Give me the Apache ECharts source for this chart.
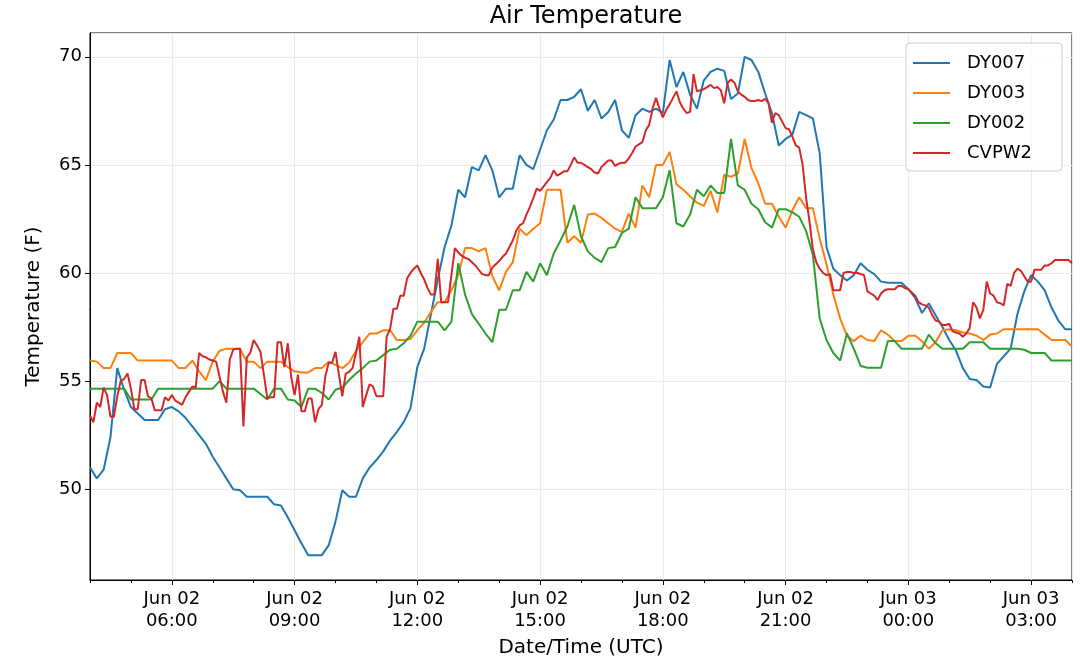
<!DOCTYPE html>
<html>
<head>
<meta charset="utf-8">
<script src="https://cdn.jsdelivr.net/npm/echarts@6/dist/echarts.min.js"></script>
<style>
  html, body { margin: 0; padding: 0; background: #fff; }
  #main { width: 1080px; height: 670px; }
</style>
</head>
<body>
<div id="main"></div>
<script>
// hours since Jun 02 00:00 UTC
var START_HOUR = 4;
var STEP_10MIN = 1 / 6;
var STEP_5MIN = 1 / 12;

var seriesNames = ['DY007', 'DY003', 'DY002', 'CVPW2'];
var seriesColors = ['#1f77b4', '#ff7f0e', '#2ca02c', '#d62728'];

// 10 minute readings
var dy007 = [51.0, 50.5, 50.9, 52.4, 55.6, 54.6, 53.8, 53.5, 53.2, 53.2,
  53.2, 53.7, 53.8, 53.6, 53.3, 52.9, 52.5, 52.1, 51.5, 51.0,
  50.5, 50.0, 49.95, 49.65, 49.65, 49.65, 49.65, 49.3, 49.25, 48.7,
  48.1, 47.5, 46.95, 46.95, 46.95, 47.4, 48.5, 49.95, 49.65, 49.65,
  50.5, 51.0, 51.35, 51.75, 52.25, 52.65, 53.1, 53.75, 55.65, 56.5,
  58.1, 59.7, 61.2, 62.2, 63.85, 63.5, 64.9, 64.75, 65.45, 64.75,
  63.5, 63.9, 63.9, 65.45, 65.0, 64.8, 65.7, 66.6, 67.1, 68.0,
  68.0, 68.15, 68.5, 67.5, 68.0, 67.15, 67.45, 68.0, 66.6, 66.25,
  67.3, 67.6, 67.45, 67.6, 67.4, 69.85, 68.6, 69.3, 68.25, 67.6,
  68.9, 69.3, 69.45, 69.35, 68.05, 68.3, 70.0, 69.85, 69.3, 68.3,
  67.4, 65.9, 66.2, 66.4, 67.45, 67.3, 67.15, 65.55, 61.2, 60.2,
  59.9, 59.65, 59.9, 60.45, 60.15, 59.95, 59.6, 59.55, 59.55, 59.55,
  59.25, 58.85, 58.15, 58.6, 58.05, 57.5, 56.9, 56.4, 55.6, 55.1,
  55.05, 54.75, 54.7, 55.8, 56.15, 56.5, 58.1, 59.15, 59.9, 59.6,
  59.2, 58.4, 57.8, 57.4, 57.4];

var dy003 = [55.95, 55.9, 55.6, 55.6, 56.3, 56.3, 56.3, 55.95, 55.95, 55.95,
  55.95, 55.95, 55.95, 55.6, 55.6, 55.95, 55.45, 55.05, 55.9, 56.4,
  56.5, 56.5, 56.5, 55.9, 55.9, 55.6, 55.9, 55.9, 55.9, 55.65,
  55.45, 55.4, 55.4, 55.6, 55.6, 55.9, 55.75, 55.6, 55.85, 56.4,
  56.8, 57.2, 57.2, 57.35, 57.35, 56.9, 56.9, 56.95, 57.35, 57.7,
  58.2, 58.65, 58.65, 59.2, 59.9, 61.15, 61.15, 61.0, 61.15, 59.85,
  59.2, 60.05, 60.5, 62.05, 61.75, 62.05, 62.3, 63.85, 63.85, 63.85,
  61.4, 61.7, 61.4, 62.7, 62.75, 62.55, 62.3, 62.05, 61.9, 62.75,
  62.1, 64.05, 63.5, 65.0, 65.0, 65.6, 64.1, 63.85, 63.55, 63.25,
  63.1, 63.8, 62.8, 64.55, 64.45, 64.6, 66.2, 64.85, 64.15, 63.2,
  63.2, 62.6, 62.1, 62.9, 63.5, 63.0, 63.0, 61.6, 60.4, 59.0,
  57.9, 57.1, 56.85, 57.1, 56.9, 56.85, 57.35, 57.15, 56.85, 56.85,
  57.1, 57.1, 56.85, 56.5, 56.8, 57.35, 57.4, 57.35, 57.25, 57.2,
  57.1, 56.9, 57.15, 57.2, 57.4, 57.4, 57.4, 57.4, 57.4, 57.4,
  57.15, 56.9, 56.9, 56.9, 56.6];

var dy002 = [54.65, 54.65, 54.65, 54.65, 54.65, 54.65, 54.15, 54.15, 54.15, 54.15,
  54.65, 54.65, 54.65, 54.65, 54.65, 54.65, 54.65, 54.65, 54.65, 55.0,
  54.65, 54.65, 54.65, 54.65, 54.65, 54.4, 54.15, 54.65, 54.65, 54.15,
  54.1, 53.8, 54.65, 54.65, 54.45, 54.15, 54.6, 54.7, 55.05, 55.35,
  55.6, 55.9, 55.95, 56.2, 56.45, 56.5, 56.75, 57.1, 57.75, 57.75,
  57.75, 57.75, 57.35, 57.75, 60.45, 59.0, 58.1, 57.65, 57.2, 56.8,
  58.3, 58.3, 59.2, 59.2, 60.05, 59.6, 60.45, 59.9, 60.9, 61.5,
  62.15, 63.15, 61.7, 61.0, 60.7, 60.5, 61.15, 61.2, 61.85, 62.05,
  63.5, 63.0, 63.0, 63.0, 63.5, 64.75, 62.3, 62.15, 62.7, 63.85,
  63.55, 64.05, 63.7, 63.7, 66.2, 64.05, 63.85, 63.2, 62.95, 62.35,
  62.1, 62.95, 62.95, 62.8, 62.6, 61.95, 60.85, 57.9, 56.9, 56.3,
  55.95, 57.2, 56.5, 55.7, 55.62, 55.62, 55.62, 56.85, 56.85, 56.5,
  56.5, 56.5, 56.5, 57.15, 56.75, 56.5, 56.5, 56.5, 56.5, 56.8,
  56.8, 56.8, 56.5, 56.5, 56.5, 56.5, 56.5, 56.45, 56.3, 56.3,
  56.3, 55.95, 55.95, 55.95, 55.95];

// 5 minute readings
var cvpw2 = [53.4, 53.1, 54.0, 53.8, 54.7, 54.35, 53.35, 53.35, 54.3, 55.0,
  55.1, 55.35, 54.65, 53.7, 53.7, 55.05, 55.05, 54.3, 54.2, 53.65,
  53.65, 53.65, 54.25, 54.1, 54.35, 54.1, 54.0, 53.9, 54.25, 54.5,
  54.75, 54.7, 56.3, 56.15, 56.1, 56.0, 55.95, 55.9, 55.2, 54.5,
  54.0, 56.0, 56.45, 56.5, 56.5, 52.9, 56.1, 56.3, 56.9, 56.65,
  56.35, 55.3, 54.2, 54.25, 54.25, 56.8, 56.8, 55.65, 56.75, 55.2,
  54.35, 55.3, 53.6, 53.6, 54.2, 54.2, 53.1, 53.7, 53.9, 55.2,
  55.85, 55.85, 56.35, 55.3, 54.3, 55.35, 55.43, 55.6, 56.3, 57.05,
  53.8, 54.35, 54.85, 54.75, 54.3, 54.3, 54.3, 57.05, 57.4, 58.35,
  58.35, 58.95, 58.95, 59.75, 60.0, 60.2, 60.35, 60.0, 59.7, 59.3,
  59.0, 59.0, 60.65, 58.65, 58.65, 58.65, 59.9, 61.15, 60.95, 60.8,
  60.7, 60.65, 60.5, 60.35, 60.15, 59.95, 59.9, 59.9, 60.25, 60.4,
  60.55, 60.75, 60.9, 61.2, 61.5, 61.95, 62.2, 62.3, 62.7, 63.05,
  63.45, 63.9, 63.8, 64.0, 64.2, 64.4, 64.75, 64.5, 64.6, 64.7,
  64.7, 65.0, 65.35, 65.1, 65.1, 65.0, 64.9, 64.8, 64.65, 64.6,
  64.9, 65.05, 65.2, 65.2, 64.95, 65.05, 65.1, 65.1, 65.3, 65.55,
  65.85, 65.95, 66.05, 66.6, 66.85, 67.6, 68.1, 67.6, 67.2, 67.55,
  67.8, 68.1, 68.4, 67.9, 67.6, 67.4, 67.45, 69.2, 68.4, 68.45,
  68.5, 68.6, 68.7, 68.55, 68.6, 68.45, 67.85, 68.8, 68.95, 68.8,
  68.4, 68.25, 68.15, 68.0, 67.95, 67.95, 68.0, 67.95, 68.05, 67.85,
  66.95, 67.4, 67.3, 67.0, 66.7, 66.65, 66.3, 65.9, 65.8, 65.0,
  63.5, 62.4, 61.1, 60.5, 60.2, 60.0, 59.9, 59.95, 59.2, 59.2,
  59.2, 60.0, 60.05, 60.05, 60.0, 60.0, 59.95, 59.9, 59.15, 59.05,
  58.95, 58.75, 59.05, 59.2, 59.25, 59.25, 59.25, 59.4, 59.4, 59.3,
  59.25, 59.1, 58.95, 58.65, 58.55, 58.5, 58.4, 58.05, 57.8, 57.75,
  57.6, 57.6, 57.65, 57.3, 57.25, 57.2, 57.05, 57.2, 57.45, 58.65,
  58.4, 57.9, 58.3, 59.6, 59.05, 58.95, 58.65, 58.6, 58.5, 59.5,
  59.4, 60.0, 60.2, 60.1, 59.85, 59.6, 59.6, 60.15, 60.15, 60.15,
  60.35, 60.35, 60.45, 60.6, 60.6, 60.6, 60.6, 60.6, 60.45];

var seriesValues = [dy007, dy003, dy002, cvpw2];
var seriesSteps = [STEP_10MIN, STEP_10MIN, STEP_10MIN, STEP_5MIN];

function toPairs(values, step) {
  return values.map(function (v, i) { return [START_HOUR + i * step, v]; });
}

function pad(n) { return (n < 10 ? '0' : '') + n; }

function timeLabel(h) {
  var hr = Math.round(h);
  var day = hr >= 24 ? 'Jun 03' : 'Jun 02';
  return day + '\n' + pad(hr % 24) + ':00';
}

var dom = document.getElementById('main');
var chart = echarts.init(dom, null, { renderer: 'canvas' });

var option = {
  animation: false,
  backgroundColor: '#fff',
  textStyle: { fontFamily: 'DejaVu Sans' },
  title: {
    text: 'Air Temperature',
    left: 581,
    textAlign: 'center',
    top: 0,
    textStyle: { fontSize: 24, fontWeight: 'normal', color: '#000', fontFamily: 'DejaVu Sans' }
  },
  legend: {
    data: seriesNames,
    orient: 'vertical',
    right: 18,
    top: 43,
    icon: 'rect',
    itemWidth: 37,
    itemHeight: 2,
    itemGap: 10,
    padding: [10, 30, 8, 7],
    backgroundColor: 'rgba(255,255,255,0.8)',
    borderColor: '#cccccc',
    borderWidth: 1,
    borderRadius: 4,
    textStyle: { fontSize: 18, lineHeight: 20, color: '#000', padding: [0, 0, 0, 12] }
  },
  grid: {
    left: 90,
    right: 8,
    top: 33,
    bottom: 90,
    show: true,
    borderColor: '#000',
    borderWidth: 1,
    backgroundColor: 'transparent'
  },
  xAxis: [
    {
      type: 'value',
      min: 4,
      max: 28,
      splitNumber: 8,
      position: 'bottom',
      name: 'Date/Time (UTC)',
      nameLocation: 'middle',
      nameGap: 58,
      nameTextStyle: { fontSize: 20, color: '#000' },
      axisLine: { show: true, lineStyle: { color: '#000', width: 1 } },
      axisTick: { show: true, length: 5, lineStyle: { color: '#000' } },
      axisLabel: {
        fontSize: 18, lineHeight: 22, color: '#000', margin: 8,
        showMinLabel: false, showMaxLabel: false,
        formatter: timeLabel
      },
      splitLine: { show: true, lineStyle: { color: '#ebebeb', width: 1 } }
    },
    {
      // hourly minor ticks
      type: 'value',
      min: 4,
      max: 28,
      interval: 1,
      position: 'bottom',
      axisLine: { show: false },
      axisTick: { show: true, length: 3, lineStyle: { color: '#000' } },
      axisLabel: { show: false },
      splitLine: { show: false }
    }
  ],
  yAxis: {
    type: 'value',
    min: 45.8,
    max: 71.1,
    splitNumber: 5,
    name: 'Temperature (F)',
    nameLocation: 'middle',
    nameGap: 46,
    nameTextStyle: { fontSize: 20, color: '#000' },
    axisLine: { show: true, lineStyle: { color: '#000', width: 1 } },
    axisTick: { show: true, length: 5, lineStyle: { color: '#000' } },
    axisLabel: { fontSize: 18, color: '#000', margin: 8, showMinLabel: false, showMaxLabel: false },
    splitLine: { show: true, lineStyle: { color: '#ebebeb', width: 1 } }
  },
  series: seriesNames.map(function (name, s) {
    return {
      name: name,
      type: 'line',
      xAxisIndex: 0,
      symbol: 'none',
      silent: true,
      color: seriesColors[s],
      lineStyle: { width: 2, color: seriesColors[s] },
      data: toPairs(seriesValues[s], seriesSteps[s])
    };
  })
};

chart.setOption(option);
</script>
</body>
</html>
